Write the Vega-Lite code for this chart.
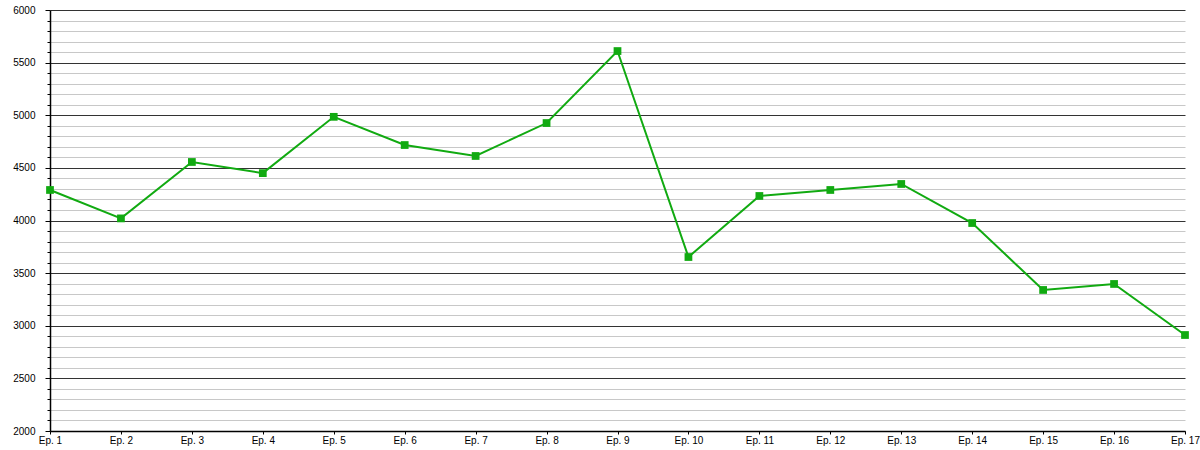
{
  "$schema": "https://vega.github.io/schema/vega-lite/v6.json",
  "width": 1135,
  "height": 421,
  "autosize": "none",
  "padding": {"left": 50, "top": 10, "right": 15, "bottom": 19},
  "background": "white",
  "config": {
    "view": {"stroke": null},
    "font": "Liberation Sans"
  },
  "data": {
    "values": [
      {"episode": "Ep. 1", "viewers": 4290},
      {"episode": "Ep. 2", "viewers": 4020},
      {"episode": "Ep. 3", "viewers": 4556},
      {"episode": "Ep. 4", "viewers": 4450},
      {"episode": "Ep. 5", "viewers": 4985},
      {"episode": "Ep. 6", "viewers": 4717},
      {"episode": "Ep. 7", "viewers": 4613},
      {"episode": "Ep. 8", "viewers": 4926},
      {"episode": "Ep. 9", "viewers": 5610},
      {"episode": "Ep. 10", "viewers": 3653},
      {"episode": "Ep. 11", "viewers": 4233},
      {"episode": "Ep. 12", "viewers": 4290},
      {"episode": "Ep. 13", "viewers": 4347},
      {"episode": "Ep. 14", "viewers": 3976},
      {"episode": "Ep. 15", "viewers": 3340},
      {"episode": "Ep. 16", "viewers": 3397},
      {"episode": "Ep. 17", "viewers": 2912}
    ]
  },
  "encoding": {
    "x": {
      "field": "episode",
      "type": "ordinal",
      "sort": null,
      "scale": {"type": "point", "padding": 0},
      "axis": {
        "title": null,
        "labelAngle": 0,
        "labelFontSize": 10,
        "labelColor": "#000",
        "labelPadding": 1,
        "domainColor": "#000",
        "domainWidth": 1.5,
        "tickColor": "#000",
        "tickSize": 3,
        "grid": false
      }
    },
    "y": {
      "field": "viewers",
      "type": "quantitative",
      "scale": {"domain": [2000, 6000], "nice": false, "zero": false},
      "axis": {
        "title": null,
        "values": [2000, 2100, 2200, 2300, 2400, 2500, 2600, 2700, 2800, 2900, 3000, 3100, 3200, 3300, 3400, 3500, 3600, 3700, 3800, 3900, 4000, 4100, 4200, 4300, 4400, 4500, 4600, 4700, 4800, 4900, 5000, 5100, 5200, 5300, 5400, 5500, 5600, 5700, 5800, 5900, 6000],
        "format": "d",
        "labelExpr": "datum.value % 500 === 0 ? datum.label : ''",
        "labelFontSize": 10,
        "labelColor": "#000",
        "labelPadding": 10,
        "labelBaseline": "middle",
        "domainColor": "#000",
        "domainWidth": 1.5,
        "tickColor": "#000",
        "tickSize": {"condition": {"test": "datum.value % 500 === 0", "value": 5}, "value": 3},
        "grid": true,
        "gridColor": {"condition": {"test": "datum.value % 500 === 0", "value": "#333333"}, "value": "#c8c8c8"},
        "gridWidth": 1,
        "gridOpacity": 1
      }
    }
  },
  "layer": [
    {"mark": {"type": "line", "color": "#11aa11", "strokeWidth": 2}},
    {"mark": {"type": "point", "shape": "square", "filled": true, "color": "#11aa11", "size": 60, "opacity": 1}}
  ]
}
